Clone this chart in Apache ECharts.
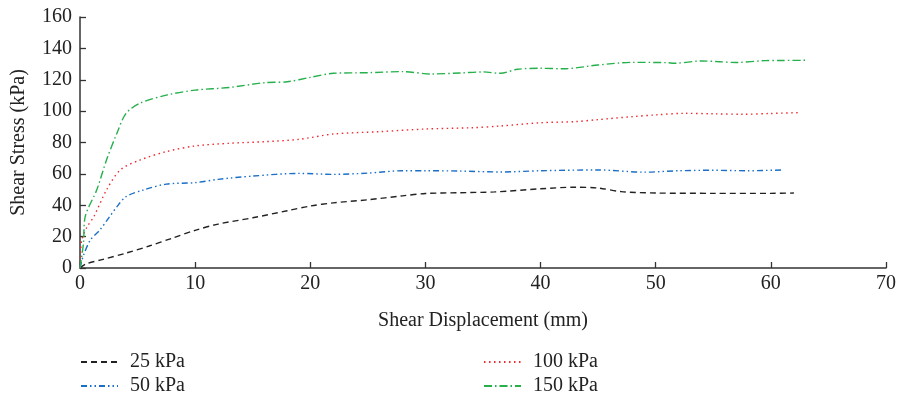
<!DOCTYPE html>
<html>
<head>
<meta charset="utf-8">
<script src="https://cdn.jsdelivr.net/npm/echarts@6/dist/echarts.min.js"></script>
<style>
  html, body { margin: 0; padding: 0; background: #fff; }
  #chart { width: 900px; height: 400px; }
</style>
</head>
<body>
<div id="chart"></div>
<script>
// shear displacement (mm) and shear stress (kPa)
const disp25 = [0, 0.5, 2, 4, 6, 8, 10, 12, 15, 18, 20, 22, 25, 28, 30, 33, 36, 40, 43, 45, 47, 50, 55, 60, 62];
const stress25 = [0, 2.5, 5.5, 9.5, 14, 19, 24, 28, 32, 36.5, 39.5, 41.5, 43.5, 46, 47.5, 48, 48.5, 50.5, 51.5, 51, 48.7, 47.8, 47.6, 47.6, 47.8];

const disp50 = [0, 0.3, 0.9, 1.7, 2.5, 3.2, 4, 5.5, 7.5, 10, 12, 15, 19, 22, 25, 28, 30, 33, 36.5, 40, 45, 49, 52, 55, 58, 61];
const stress50 = [0, 8, 17.8, 24, 32, 39, 45.5, 49.7, 53.5, 54.4, 56.5, 58.6, 60.3, 59.7, 60.5, 62, 62, 61.8, 61.2, 62, 62.5, 61.1, 62, 62.3, 62, 62.5];

const disp100 = [0, 0.15, 0.6, 1.2, 2.3, 3.5, 5.2, 7.5, 10, 13, 16, 19, 22, 26, 30, 34, 36.5, 40, 43, 45, 48, 50, 52.5, 55, 57.5, 60, 62.6];
const stress100 = [0, 17.8, 26, 32.7, 49.7, 62.5, 68.8, 74.2, 77.8, 79.5, 80.5, 82, 85.4, 86.9, 88.6, 89.4, 90.5, 92.6, 93.3, 94.6, 96.5, 97.6, 98.6, 98.3, 98, 98.5, 99.1];

const disp150 = [0, 0.3, 0.45, 1.45, 2.3, 3.2, 4, 5.2, 7.5, 10, 13, 16, 18, 20, 22, 25, 28, 30.5, 33, 35, 36.5, 38, 40, 42, 45, 48, 51, 51.6, 54, 55.3, 57, 59.5, 61, 63];
const stress150 = [0, 15.7, 32.7, 49.7, 68.8, 85.8, 98.6, 105, 110.2, 113.4, 115.1, 118.1, 118.7, 121.5, 124.1, 124.5, 125.2, 123.7, 124.3, 125, 124.1, 126.7, 127.3, 127, 129.4, 131.1, 130.9, 130.5, 132, 131.6, 131, 132.2, 132.3, 132.4];

const seriesNames = ["25 kPa", "50 kPa", "100 kPa", "150 kPa"];

const FONT = "Liberation Serif";
const AXIS_COLOR = "#333";
const TEXT_COLOR = "#222";

function zip(xs, ys) {
  return xs.map((x, i) => [x, ys[i]]);
}

function makeSeries(name, xs, ys, color, dash) {
  return {
    name: name,
    type: "line",
    showSymbol: false,
    symbol: "none",
    smooth: 0.3,
    data: zip(xs, ys),
    lineStyle: { color: color, width: 1.4, type: dash },
    itemStyle: { color: color }
  };
}

// one legend block per entry, laid out as two columns under the plot
function makeLegend(name, left, top) {
  return {
    data: [name],
    left: left,
    top: top,
    itemWidth: 37,
    itemHeight: 14,
    // hide the marker so only the line sample shows
    itemStyle: { opacity: 0 },
    textStyle: { fontFamily: FONT, fontSize: 20, color: TEXT_COLOR, padding: [0, 0, 0, 7] }
  };
}

const chart = echarts.init(document.getElementById("chart"));

chart.setOption({
  animation: false,
  backgroundColor: "#fff",
  grid: { left: 80, right: 14, top: 17, bottom: 132, outerBoundsMode: "none" },
  legend: [
    makeLegend(seriesNames[0], 75, 347),
    makeLegend(seriesNames[1], 75, 371),
    makeLegend(seriesNames[2], 478, 347),
    makeLegend(seriesNames[3], 478, 371)
  ],
  xAxis: {
    type: "value",
    min: 0,
    max: 70,
    interval: 10,
    name: "Shear Displacement (mm)",
    nameLocation: "middle",
    nameGap: 43,
    nameTextStyle: { fontFamily: FONT, fontSize: 20, color: TEXT_COLOR },
    axisLine: { lineStyle: { color: AXIS_COLOR, width: 1.5 } },
    axisTick: { inside: true, length: 6, lineStyle: { color: AXIS_COLOR, width: 1.3 } },
    axisLabel: { fontFamily: FONT, fontSize: 20, color: TEXT_COLOR, margin: 6 },
    splitLine: { show: false }
  },
  yAxis: {
    type: "value",
    min: 0,
    max: 160,
    interval: 20,
    name: "Shear Stress (kPa)",
    nameLocation: "middle",
    nameGap: 51,
    nameTextStyle: { fontFamily: FONT, fontSize: 20, color: TEXT_COLOR },
    axisLine: { show: true, lineStyle: { color: AXIS_COLOR, width: 1.5 } },
    axisTick: { show: true, inside: true, length: 6, lineStyle: { color: AXIS_COLOR, width: 1.3 } },
    axisLabel: { fontFamily: FONT, fontSize: 20, color: TEXT_COLOR, margin: 8 },
    splitLine: { show: false }
  },
  series: [
    makeSeries(seriesNames[0], disp25, stress25, "#222222", [6, 4]),
    makeSeries(seriesNames[1], disp50, stress50, "#1b6fc6", [6, 3, 1.5, 3, 1.5, 3]),
    makeSeries(seriesNames[2], disp100, stress100, "#ec2a2f", [1.5, 3.5]),
    makeSeries(seriesNames[3], disp150, stress150, "#25b04c", [8, 3, 1.5, 3])
  ]
});
</script>
</body>
</html>
